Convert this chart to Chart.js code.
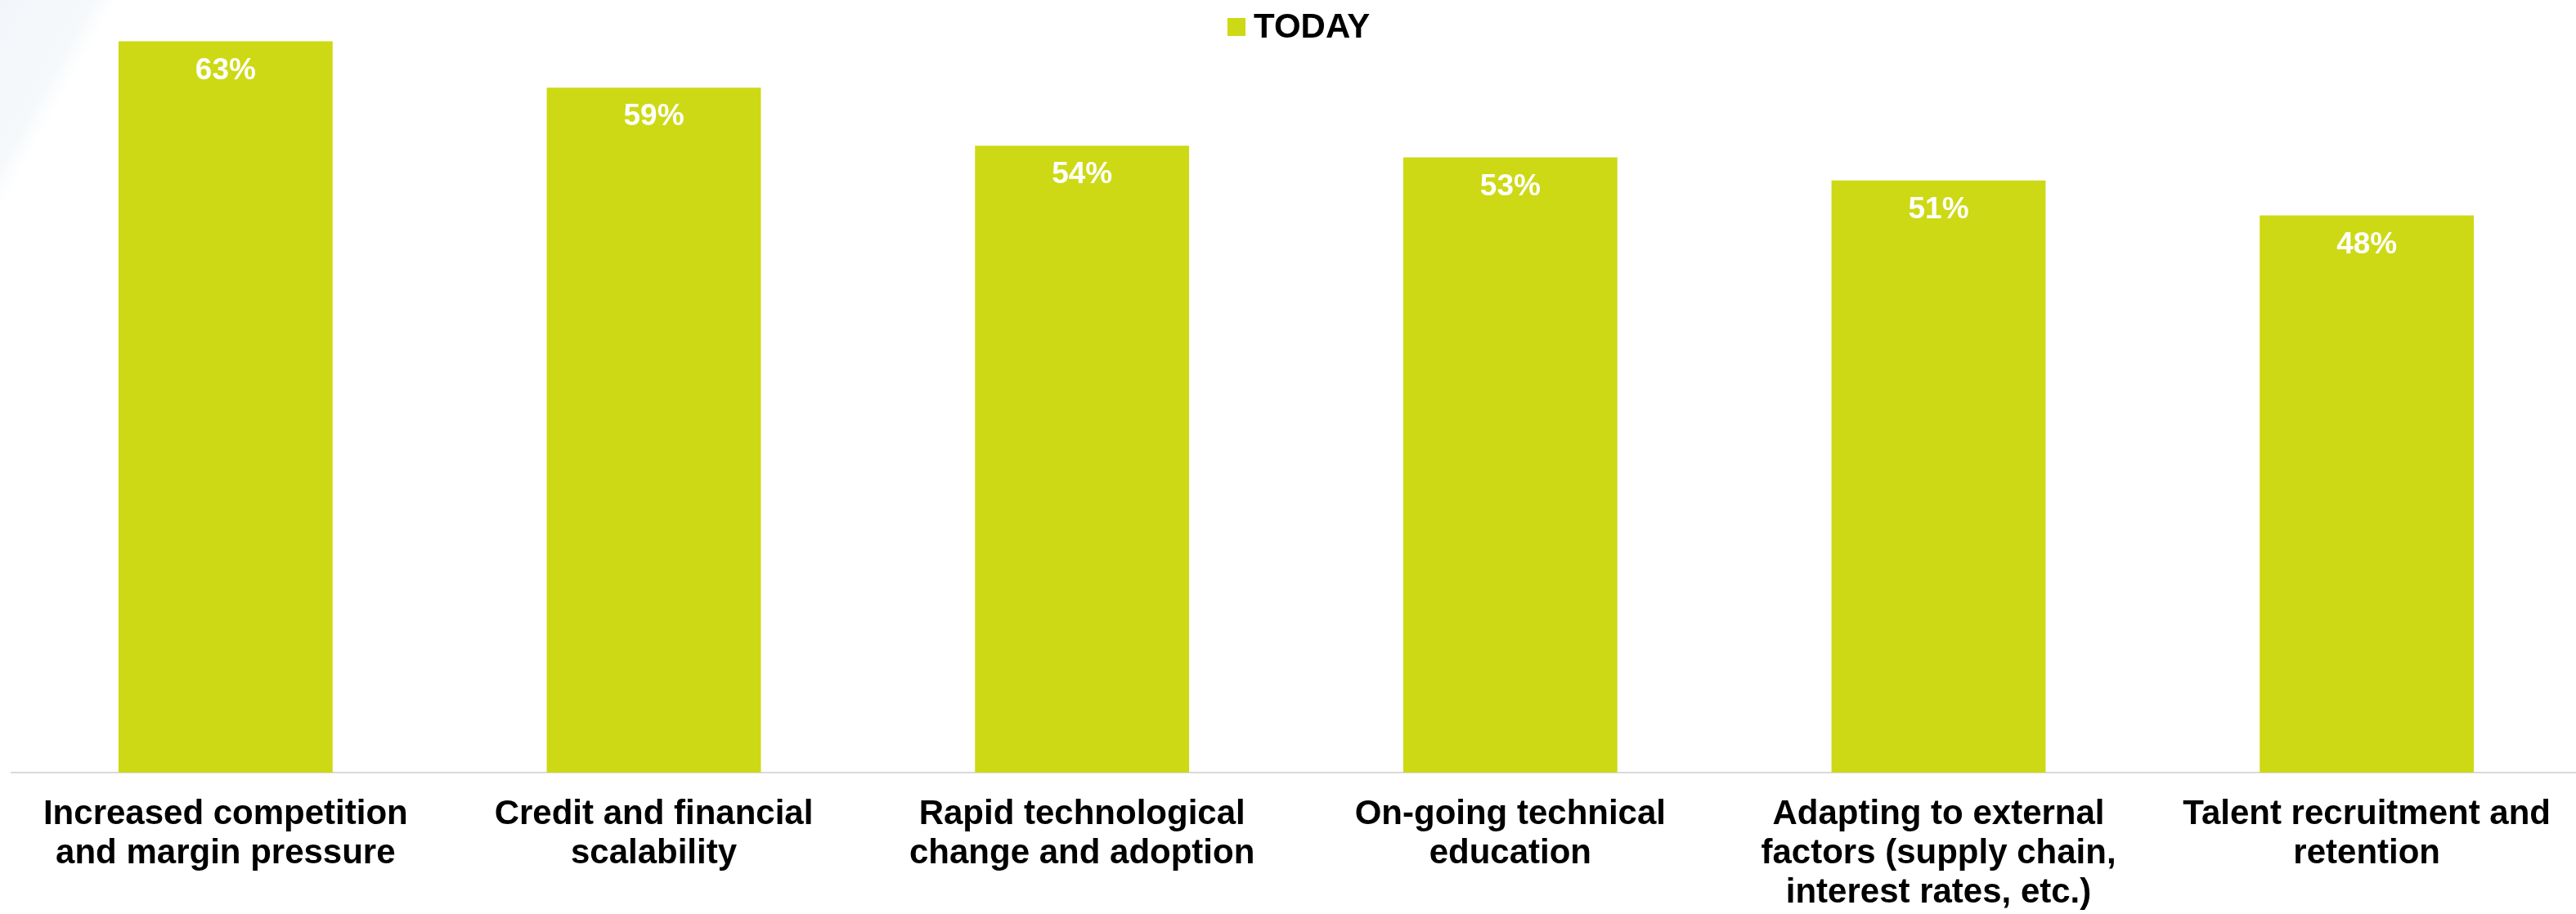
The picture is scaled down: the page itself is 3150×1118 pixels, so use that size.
<!DOCTYPE html>
<html>
<head>
<meta charset="utf-8">
<title>Challenges today</title>
<script src="https://cdn.jsdelivr.net/npm/chart.js@4.4.1/dist/chart.umd.min.js"></script>
<style>
  html, body { margin: 0; padding: 0; background: #ffffff; overflow: hidden; }
  #wrap {
    position: relative;
    width: 3156px;
    height: 1118px;
    background: linear-gradient(119deg, #f2f6fa 0px, #f6f9fb 100px, #ffffff 124px);
  }
  canvas { display: block; }
</style>
</head>
<body>
<div id="wrap"><canvas id="chart" width="3156" height="1118"></canvas></div>
<script>
// Categories (multi-line axis labels)
const categories = [
  ['Increased competition', 'and margin pressure'],
  ['Credit and financial', 'scalability'],
  ['Rapid technological', 'change and adoption'],
  ['On-going technical', 'education'],
  ['Adapting to external', 'factors (supply chain,', 'interest rates, etc.)'],
  ['Talent recruitment and', 'retention']
];

// Series
const seriesName = 'TODAY';
const todayValues = [63, 59, 54, 53, 51, 48];

const BAR_COLOR = '#cdd914';
const FONT_FAMILY = '"Liberation Sans", Arial, Helvetica, sans-serif';

// White percentage label just inside the top of each bar
const barValueLabels = {
  id: 'barValueLabels',
  afterDatasetsDraw(chart) {
    const { ctx } = chart;
    chart.data.datasets.forEach((ds, di) => {
      chart.getDatasetMeta(di).data.forEach((bar, i) => {
        ctx.save();
        ctx.font = 'bold 37px ' + FONT_FAMILY;
        ctx.fillStyle = '#ffffff';
        ctx.textAlign = 'center';
        ctx.textBaseline = 'middle';
        ctx.fillText(ds.data[i] + '%', bar.x, bar.y + 36);
        ctx.restore();
      });
    });
  }
};

// Single-entry legend drawn over the top of the plot
const topLegend = {
  id: 'topLegend',
  afterDraw(chart) {
    const { ctx } = chart;
    const ds = chart.data.datasets[0];
    const left = 1501;
    ctx.save();
    ctx.fillStyle = ds.backgroundColor;
    ctx.fillRect(left, 22, 22, 22);
    ctx.font = 'bold 42px ' + FONT_FAMILY;
    ctx.fillStyle = '#000000';
    ctx.textAlign = 'left';
    ctx.textBaseline = 'alphabetic';
    ctx.fillText(ds.label, left + 32, 45.5);
    ctx.restore();
  }
};

new Chart(document.getElementById('chart'), {
  type: 'bar',
  data: {
    labels: categories,
    datasets: [{
      label: seriesName,
      data: todayValues,
      backgroundColor: BAR_COLOR,
      borderWidth: 0,
      categoryPercentage: 1.0,
      barPercentage: 0.5
    }]
  },
  options: {
    responsive: false,
    animation: false,
    devicePixelRatio: 1,
    layout: { padding: { left: 14, right: 0, top: 0, bottom: 0 } },
    plugins: {
      legend: { display: false },
      tooltip: { enabled: false }
    },
    scales: {
      x: {
        grid: { display: false, drawTicks: false },
        border: { display: true, color: '#d9d9d9', width: 2 },
        ticks: {
          color: '#000000',
          padding: 27,
          maxRotation: 0,
          autoSkip: false,
          font: { family: FONT_FAMILY, size: 42, weight: 'bold', lineHeight: 48 / 42 }
        },
        // reserve a fixed band under the plot for the category labels
        afterFit(scale) { scale.height = 173; }
      },
      y: {
        display: false,
        min: 0,
        max: 66.55,
        grid: { display: false }
      }
    }
  },
  plugins: [barValueLabels, topLegend]
});
</script>
</body>
</html>
